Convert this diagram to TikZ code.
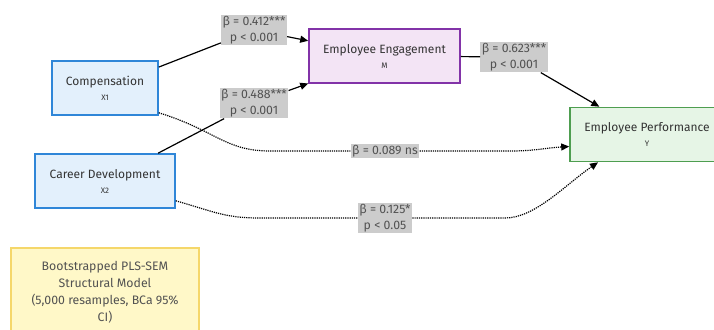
\documentclass[tikz,border=0pt]{standalone}
\usepackage{fontspec}
\setmainfont{Fira Sans}
\usetikzlibrary{arrows.meta}

\definecolor{txt}{HTML}{333333}
\definecolor{coefgray}{HTML}{CCCCCC}
\definecolor{xfill}{HTML}{E3F0FC}
\definecolor{xline}{HTML}{2F86D8}
\definecolor{mfill}{HTML}{F3E4F5}
\definecolor{mline}{HTML}{8233A8}
\definecolor{yfill}{HTML}{E6F5E6}
\definecolor{yline}{HTML}{4E9E50}
\definecolor{notefill}{HTML}{FFF8C8}
\definecolor{noteline}{HTML}{F5D76A}

\tikzset{
  varbox/.style={draw, line width=1.6pt, minimum height=54pt, align=center,
    text=txt, font=\fontsize{12}{14}\selectfont, inner sep=0pt},
  coefbox/.style={fill=coefgray, text=txt!85, align=center, inner sep=1.5pt,
    font=\fontsize{12.3}{16}\selectfont},
  sig/.style={line width=1.2pt, -{Triangle[length=8pt,width=7pt]}},
  nonsig/.style={line width=1.2pt, densely dotted, -{Triangle[length=8pt,width=7pt]}},
}
\newcommand{\sublbl}[1]{\\[1pt]{\fontsize{8}{9}\selectfont #1}}

\begin{document}
\begin{tikzpicture}[x=1pt,y=-1pt]
\useasboundingbox (0,0) rectangle (714,329);

% variables
\node[varbox, fill=xfill, draw=xline, minimum width=106pt] (comp) at (105,88) {Compensation\sublbl{X1}};
\node[varbox, fill=xfill, draw=xline, minimum width=140pt] (career) at (105,181) {Career Development\sublbl{X2}};
\node[varbox, fill=mfill, draw=mline, minimum width=151pt] (eng) at (384.5,56) {Employee Engagement\sublbl{M}};
\node[varbox, fill=yfill, draw=yline, minimum width=154pt] (perf) at (647,134.5) {Employee Performance\sublbl{Y}};

% path coefficients
\node[coefbox] (b1) at (254,30) {β = 0.412***\\p < 0.001};
\node[coefbox] (b2) at (254,103) {β = 0.488***\\p < 0.001};
\node[coefbox] (b3) at (514,57) {β = 0.623***\\p < 0.001};
\node[coefbox, font=\fontsize{12.3}{14}\selectfont] (b4) at (385,151) {β = 0.089 ns};
\node[coefbox] (b5) at (385,218) {β = 0.125*\\p < 0.05};

\draw[line width=1.2pt] (comp) -- (b1);
\draw[sig] (b1) -- (eng);
\draw[line width=1.2pt] (career) -- (b2);
\draw[sig] (b2) -- (eng);
\draw[line width=1.2pt] (eng) -- (b3);
\draw[sig] (b3) -- (perf);

\draw[line width=1.2pt, densely dotted] ([yshift=3pt]comp.south east) .. controls (215,130) and (225,151) .. (270,151) -- (b4);
\draw[nonsig] (b4) -- (510,151) .. controls (535,151) and (545,148) .. ([yshift=-12pt]perf.west);
\draw[line width=1.2pt, densely dotted] ([yshift=8pt]career.south east) .. controls (215,212) and (225,218) .. (260,218) -- (b5);
\draw[nonsig] (b5) -- (505,218) .. controls (535,218) and (565,185) .. ([xshift=-49pt]perf.south);

% TODO: note box runs off the bottom edge
\node[draw=noteline, fill=notefill, line width=1.2pt, minimum width=188pt, minimum height=89pt,
  align=center, text=txt!85, font=\fontsize{12.3}{17}\selectfont] (note) at (105,292.5)
  {Bootstrapped PLS-SEM\\Structural Model\\(5,000 resamples, BCa 95\%\\CI)};
\end{tikzpicture}
\end{document}
